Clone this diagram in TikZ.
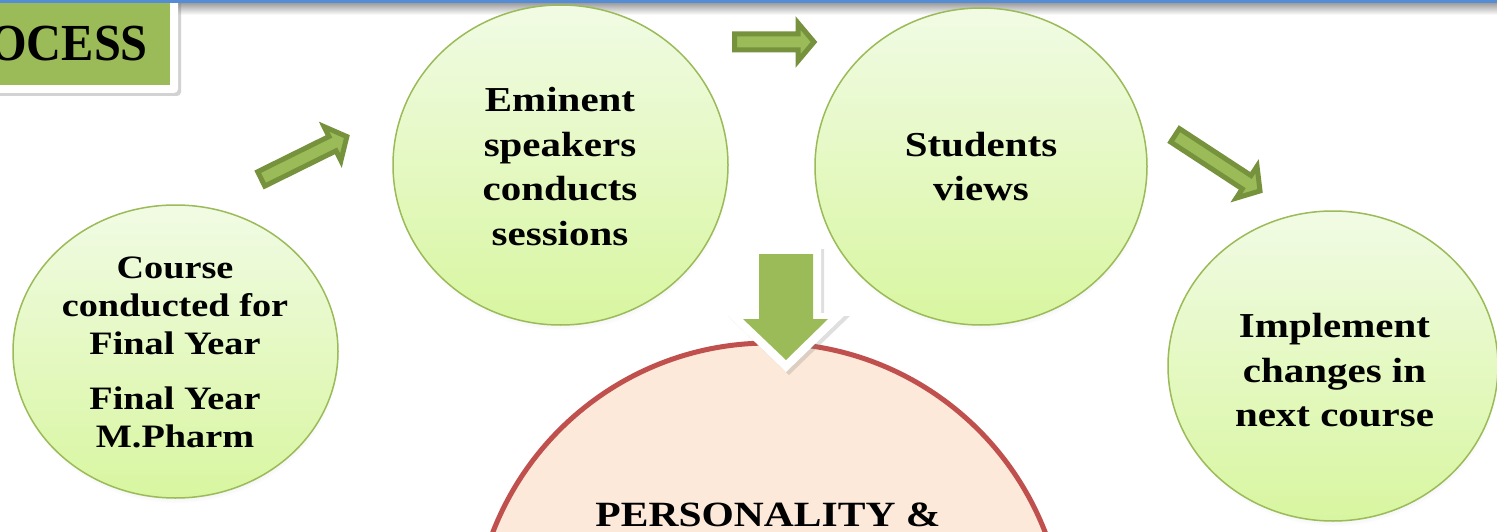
\documentclass[tikz,border=0pt]{standalone}
\usepackage{fontspec}
\setmainfont{Liberation Serif}[FakeStretch=1.17]
\newfontfamily\titlefont{Liberation Serif}[FakeStretch=0.93]
\usetikzlibrary{shapes.geometric,shadows,fadings}
\definecolor{bubtop}{RGB}{241,251,228}
\definecolor{bubbot}{RGB}{216,246,160}
\definecolor{bubline}{RGB}{155,187,89}
\definecolor{arrdark}{RGB}{118,146,60}
\definecolor{arrlight}{RGB}{155,187,89}
\definecolor{peach}{RGB}{253,233,217}
\definecolor{redline}{RGB}{192,80,77}
\definecolor{topblue}{RGB}{84,141,212}
\tikzset{
  bubble/.style={ellipse, draw=bubline, line width=1.5pt, top color=bubtop, bottom color=bubbot, inner sep=0pt,
    circular drop shadow={shadow xshift=1pt, shadow yshift=-5pt, opacity=0.3, shadow scale=1}},
  bubtext/.style={align=center, inner sep=0pt, font={\fontsize{35}{44.5}\selectfont\bfseries}},
  smalltext/.style={align=center, inner sep=0pt, font={\fontsize{32.7}{38}\selectfont\bfseries}},
  blockarrow/.style={draw=arrdark, fill=arrlight, line width=5pt, line join=miter},
}
\begin{document}
\begin{tikzpicture}[x=1pt, y=-1pt]
\useasboundingbox (0,0) rectangle (1497,532);
\fill[white] (0,0) rectangle (1497,532);
% top rule and its shadow
\shade[top color=black!35, bottom color=white] (0,4) rectangle (1497,15);
% title box
\fill[white, drop shadow={opacity=0.35, shadow xshift=3pt, shadow yshift=-3pt}, rounded corners=4pt] (-20,-10) rectangle (178,93);
\fill[arrlight] (-20,-10) rectangle (170,85);
\node[anchor=base east, inner sep=0pt, font={\titlefont\fontsize{52}{60}\selectfont\bfseries}] (title) at (148,61) {OCESS};
\draw[topblue, line width=3pt] (0,2) -- (1497,2);
% bubbles
\node[bubble, minimum width=325pt, minimum height=293pt] (course) at (175.5,351.5) {};
\node[bubble, minimum width=335pt, minimum height=320pt] (eminent) at (560.5,165) {};
\node[bubble, minimum width=332pt, minimum height=317pt] (students) at (981,166.5) {};
\node[bubble, minimum width=330pt, minimum height=310pt] (implement) at (1333,366) {};
\node[smalltext] (course-t) at (175,352.5) {Course\\conducted for\\Final Year\\[17pt]Final Year\\M.Pharm};
\node[bubtext] (eminent-t) at (560,166.5) {Eminent\\speakers\\conducts\\sessions};
\node[bubtext] (students-t) at (981,166.5) {Students\\views};
\node[bubtext] (implement-t) at (1334.5,370.5) {Implement\\changes in\\next course};
% small block arrows
\begin{scope}[shift={(259,180)}, rotate=26.3]
  \draw[blockarrow] (2.5,-8) -- (82,-8) -- (82,-19) -- (98,0) -- (82,19) -- (82,8) -- (2.5,8) -- cycle;
\end{scope}
\begin{scope}[shift={(732,42)}]
  \draw[blockarrow] (2.5,-8) -- (66,-8) -- (66,-19) -- (82,0) -- (66,19) -- (66,8) -- (2.5,8) -- cycle;
\end{scope}
\begin{scope}[shift={(1173,134)}, rotate=-33.2]
  \draw[blockarrow] (2.5,-8) -- (88,-8) -- (88,-19) -- (104,0) -- (88,19) -- (88,8) -- (2.5,8) -- cycle;
\end{scope}
% big result circle
\node[circle, draw=redline, fill=peach, line width=5pt, minimum size=592pt, inner sep=0pt] (result) at (769,639) {};
\node[anchor=base, inner sep=0pt, font={\fontsize{35.5}{44}\selectfont\bfseries}] (result-t) at (768,526) {PERSONALITY \&};
% big down arrow
\fill[white, drop shadow={opacity=0.25, shadow xshift=3pt, shadow yshift=-3pt}] (751,246) -- (821,246) -- (821,313) -- (847,313) -- (786,372) -- (725,313) -- (751,313) -- cycle;
\fill[arrlight] (759,254) -- (813,254) -- (813,319) -- (828,319) -- (786,360) -- (743,319) -- (759,319) -- cycle;
\end{tikzpicture}
\end{document}
